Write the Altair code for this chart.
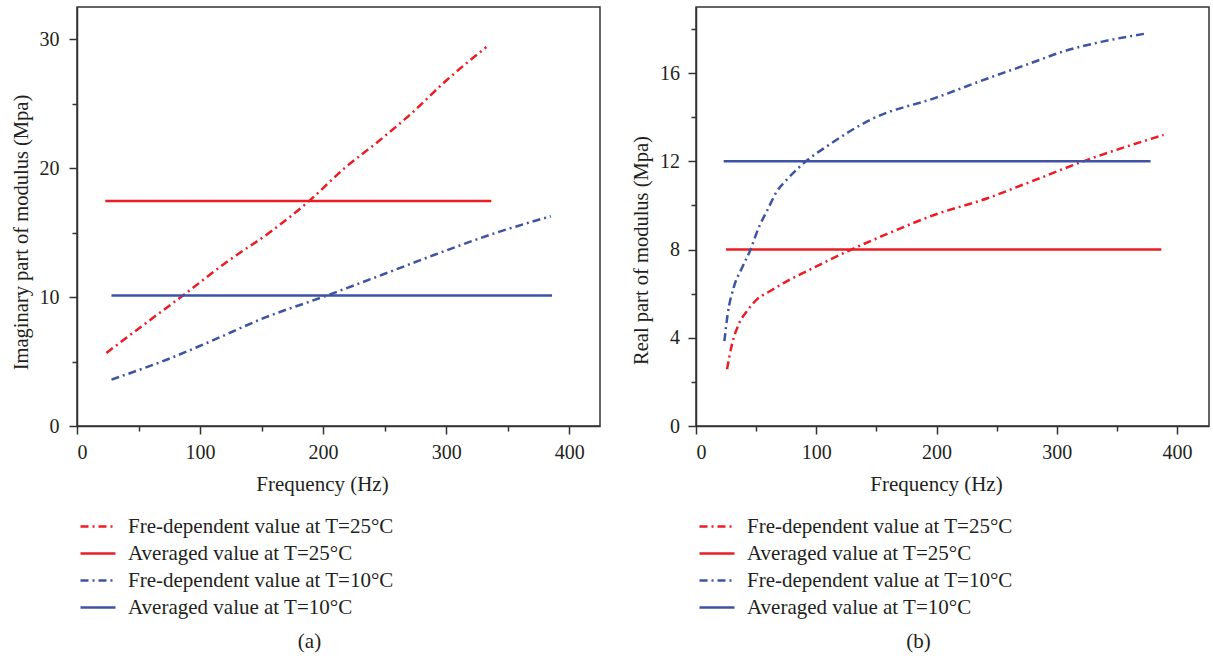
import altair as alt
import pandas as pd

FONT = "Liberation Serif"
TEXT = "#231F20"

SERIES = ["Fre-dependent value at T=25°C", "Averaged value at T=25°C",
          "Fre-dependent value at T=10°C", "Averaged value at T=10°C"]
COLORS = ["#ED1C24", "#ED1C24", "#3E53A4", "#3E53A4"]
DASHES = [[8, 4, 2, 4], [1, 0], [8, 4, 2, 4], [1, 0]]

# ---- panel (a): imaginary part ----
a_freq_25 = [23.9, 54.3, 86.9, 122.2, 157.5, 188.7, 217.2, 244.4, 271.6, 298.7, 332.6]
a_val_25 = [5.67, 7.86, 10.18, 12.76, 15.08, 17.46, 19.98, 22.04, 24.23, 26.68, 29.39]
a_avg_25_freq = [23, 336.7]
a_avg_25 = 17.46
a_freq_10 = [28, 73.3, 108.6, 152, 201, 244.4, 290.6, 339.4, 385]
a_val_10 = [3.6, 5.16, 6.57, 8.38, 10.05, 11.6, 13.28, 14.95, 16.27]
a_avg_10_freq = [28, 386]
a_avg_10 = 10.13

# ---- panel (b): real part ----
b_freq_25 = [25.8, 29.9, 35.5, 42.4, 50.7, 61.8, 75.7, 89.6, 109, 128.3, 156,
             198.6, 243, 274.7, 325.5, 388.9]
b_val_25 = [2.57, 3.70, 4.61, 5.21, 5.74, 6.12, 6.57, 6.95, 7.48, 7.98, 8.64,
            9.58, 10.34, 11.0, 12.07, 13.2]
b_avg_25_freq = [25, 387]
b_avg_25 = 8.0
b_freq_10 = [23.6, 26.3, 31.3, 38.3, 45.2, 52.1, 59, 67.4, 75.7, 90.9, 109,
             147.8, 198.6, 243, 274.7, 306.4, 338, 374.6]
b_val_10 = [3.85, 5.06, 6.27, 7.18, 7.98, 8.99, 9.75, 10.65, 11.18, 11.98, 12.69,
            13.96, 14.87, 15.77, 16.38, 17.0, 17.43, 17.8]
b_avg_10_freq = [23, 378]
b_avg_10 = 12.0


def frame(f25, v25, fa25, a25, f10, v10, fa10, a10):
    rows = []
    for f, v in zip(f25, v25):
        rows.append({"freq": f, "value": v, "series": SERIES[0]})
    for f in fa25:
        rows.append({"freq": f, "value": a25, "series": SERIES[1]})
    for f, v in zip(f10, v10):
        rows.append({"freq": f, "value": v, "series": SERIES[2]})
    for f in fa10:
        rows.append({"freq": f, "value": a10, "series": SERIES[3]})
    return pd.DataFrame(rows)


# custom horizontal stroke symbol: 12 units long from the symbol centre
legend = alt.Legend(orient="none", legendX=-7, legendY=509, direction="vertical",
                    title=None, symbolType="M0,0H12", symbolSize=34,
                    symbolStrokeWidth=2.5, labelFontSize=21, labelFont=FONT,
                    labelColor=TEXT, labelOffset=37, rowPadding=5, labelLimit=400)


def panel(df, xmax, ymax, yvals, ymajor, ytitle, ytitle_y, xtitle_x, caption,
          cap_dx, width, lpad):
    xvals = [0, 50, 100, 150, 200, 250, 300, 350, 400]
    return alt.Chart(df).mark_line(strokeWidth=2.5, interpolate="monotone").encode(
        x=alt.X("freq:Q", scale=alt.Scale(domain=[0, xmax], nice=False, zero=False),
                axis=alt.Axis(values=xvals, title="Frequency (Hz)",
                              labelExpr="datum.value % 100 === 0 ? datum.label : ''",
                              tickSize={"condition": {"test": "datum.value % 100 === 0", "value": 8}, "value": 5},
                              labelPadding=8, titlePadding=11, titleX=xtitle_x,
                              titleFontSize=21)),
        y=alt.Y("value:Q", scale=alt.Scale(domain=[0, ymax], nice=False),
                axis=alt.Axis(values=yvals, title=ytitle,
                              labelExpr=f"datum.value % {ymajor} === 0 ? datum.label : ''",
                              tickSize={"condition": {"test": f"datum.value % {ymajor} === 0", "value": 8}, "value": 5},
                              labelPadding=lpad, titlePadding=8, titleY=ytitle_y,
                              titleFontSize=20.5)),
        color=alt.Color("series:N", scale=alt.Scale(domain=SERIES, range=COLORS),
                        legend=legend),
        strokeDash=alt.StrokeDash("series:N", scale=alt.Scale(domain=SERIES, range=DASHES),
                                  legend=legend),
        detail="series:N",
    ).properties(
        width=width, height=419,
        title=alt.TitleParams(caption, orient="bottom", anchor="middle", fontSize=21,
                              font=FONT, fontWeight="normal", color=TEXT, offset=13,
                              dx=cap_dx),
    )


df_a = frame(a_freq_25, a_val_25, a_avg_25_freq, a_avg_25,
             a_freq_10, a_val_10, a_avg_10_freq, a_avg_10)
df_b = frame(b_freq_25, b_val_25, b_avg_25_freq, b_avg_25,
             b_freq_10, b_val_10, b_avg_10_freq, b_avg_10)

left = panel(df_a, 425, 32.5, [0, 5, 10, 15, 20, 25, 30], 10,
             "Imaginary part of modulus (Mpa)", 225, 245, "(a)", -29, 523, 10)
right = panel(df_b, 426.6, 19, [0, 2, 4, 6, 8, 10, 12, 14, 16, 18], 4,
              "Real part of modulus (Mpa)", 243, 240, "(b)", -34, 513, 8.5)

chart = alt.hconcat(left, right, spacing=29).resolve_scale(
    color="independent", strokeDash="independent"
).resolve_legend(color="independent", strokeDash="independent").properties(
    padding={"left": 10, "top": 6, "right": 0, "bottom": 0},
    background="white",
).configure_view(stroke="#333333", strokeWidth=1.5).configure_axis(
    domainColor="#333333", domainWidth=1.5, tickColor="#333333", tickWidth=1.5,
    labelFont=FONT, labelFontSize=20, labelColor=TEXT,
    titleFont=FONT, titleFontWeight="normal", titleColor=TEXT,
    grid=False, labelOverlap=False,
)

chart.save("out.html", embed_options={"renderer": "svg", "actions": False})
